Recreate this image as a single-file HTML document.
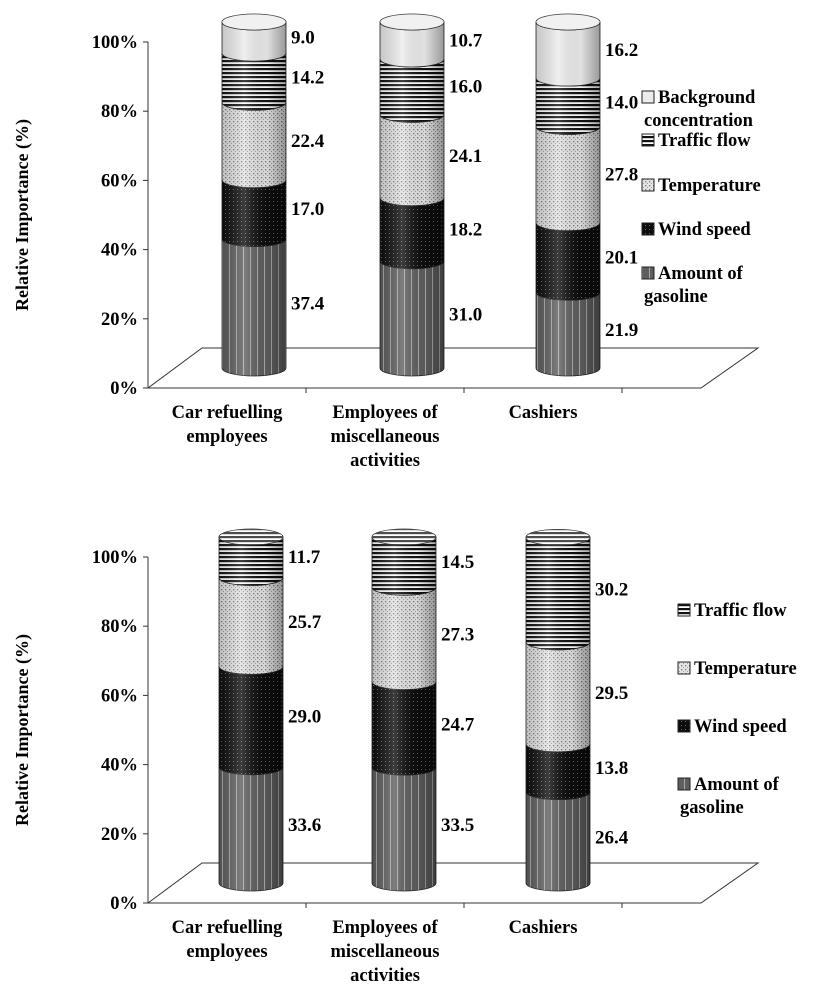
<!DOCTYPE html>
<html><head><meta charset="utf-8"><style>
html,body{margin:0;padding:0;background:#fff;}
svg{display:block;font-family:"Liberation Serif",serif;}
</style></head><body>
<svg id="root" width="830" height="1000" viewBox="0 0 830 1000">
<defs>
<pattern id="pGas" width="7" height="4" patternUnits="userSpaceOnUse"><rect width="7" height="4" fill="#5e5e5e"/><rect x="5" width="1" height="4" fill="#aaa"/></pattern>
<pattern id="pWind" width="4" height="4" patternUnits="userSpaceOnUse"><rect width="4" height="4" fill="#0d0d0d"/><rect x="1" y="1" width="1" height="1" fill="#666"/></pattern>
<pattern id="pTemp" width="4" height="4" patternUnits="userSpaceOnUse"><rect width="4" height="4" fill="#e4e4e4"/><rect x="1" y="1" width="1.3" height="1.3" fill="#777"/><rect x="3" y="3" width="1.3" height="1.3" fill="#999"/></pattern>
<pattern id="pTraf" width="6" height="4" patternUnits="userSpaceOnUse"><rect width="6" height="4" fill="#fff"/><rect width="6" height="2.2" fill="#111"/></pattern>
<pattern id="pBg" width="4" height="4" patternUnits="userSpaceOnUse"><rect width="4" height="4" fill="#ececec"/></pattern>
<linearGradient id="shade" x1="0" x2="1" y1="0" y2="0">
<stop offset="0" stop-color="#000" stop-opacity="0.15"/><stop offset="0.35" stop-color="#fff" stop-opacity="0.2"/><stop offset="0.7" stop-color="#000" stop-opacity="0.05"/><stop offset="1" stop-color="#000" stop-opacity="0.35"/></linearGradient>
</defs>
<g id="top"></g>
<g id="bot"></g>
</svg>
<script>
const categories = [["Car refuelling","employees"],["Employees of","miscellaneous","activities"],["Cashiers"]];
const yTicks = ["0%","20%","40%","60%","80%","100%"];
const topSeriesNames = ["Amount of gasoline","Wind speed","Temperature","Traffic flow","Background concentration"];
const topGasoline = [37.4, 31.0, 21.9];
const topWind = [17.0, 18.2, 20.1];
const topTemp = [22.4, 24.1, 27.8];
const topTraffic = [14.2, 16.0, 14.0];
const topBackground = [9.0, 10.7, 16.2];
const botSeriesNames = ["Amount of gasoline","Wind speed","Temperature","Traffic flow"];
const botGasoline = [33.6, 33.5, 26.4];
const botWind = [29.0, 24.7, 13.8];
const botTemp = [25.7, 27.3, 29.5];
const botTraffic = [11.7, 14.5, 30.2];

const NS="http://www.w3.org/2000/svg";
function mk(tag, attrs, parent){const e=document.createElementNS(NS,tag);for(const k in attrs)e.setAttribute(k,attrs[k]);parent.appendChild(e);return e;}
const fills=["url(#pGas)","url(#pWind)","url(#pTemp)","url(#pTraf)","url(#pBg)"];

function drawChart(g, o, series, names, legend){
  const y0=o.y0, H=346, y=v=>y0-v/100*H;
  let e=mk("line",{x1:o.ax,y1:y(0),x2:o.ax,y2:y(100),stroke:"#333","stroke-width":1},g);
  
  yTicks.forEach((t,i)=>{const yy=y(i*20);
    mk("line",{x1:o.ax-5,y1:yy,x2:o.ax,y2:yy,stroke:"#333"},g);
    const tx=mk("text",{x:o.ax-10,y:yy+6,"text-anchor":"end","font-size":18.5,"font-weight":"bold"},g);tx.textContent=t;
    });
  const fl=mk("path",{d:`M${o.ax},${y(0)} L${o.ax+54},${y(0)-40} L${o.ax+610},${y(0)-40} L${o.ax+553},${y(0)} Z`,fill:"none",stroke:"#333","stroke-width":1},g);
  
  mk("line",{x1:o.ax,y1:y(0),x2:o.ax+553,y2:y(0),stroke:"#333"},g);
  for(let i=1;i<=3;i++){const xx=o.ax+i*158;mk("line",{x1:xx,y1:y(0),x2:xx,y2:y(0)+5,stroke:"#333"},g);}
  categories.forEach((c,i)=>{c.forEach((ln,j)=>{const t=mk("text",{x:o.ax+79+i*158,y:y(0)+30+j*24,"text-anchor":"middle","font-size":18.5,"font-weight":"bold"},g);t.textContent=ln;
    });});
  const yt=mk("text",{x:0,y:0,transform:`translate(${o.titleX},${y(50)}) rotate(-90)`,"text-anchor":"middle","font-size":18,"font-weight":"bold"},g);
  yt.textContent="Relative Importance (%)";
  const rx=32, ry=8, cy0=y0-20;
  const yb=v=>cy0-v/100*H;
  o.cx.forEach((cx,i)=>{
    const cg=mk("g",{},g);
    let cum=0; const xl=cx-rx, xr=cx+rx;
    series.forEach((s,k)=>{
      const a=yb(cum), b=yb(cum+s[i]);
      const p=mk("path",{d:`M${xl},${b} A${rx},${ry} 0 0 0 ${xr},${b} L${xr},${a} A${rx},${ry} 0 0 1 ${xl},${a} Z`,fill:fills[k],stroke:"#222","stroke-width":0.8},cg);
      
      const lb=mk("text",{x:xr+5,y:(a+b)/2+6,"font-size":19,"font-weight":"bold"},g);lb.textContent=s[i].toFixed(1);
      
      cum+=s[i];
    });
    const top=yb(cum);
    mk("path",{d:`M${xl},${top} L${xl},${yb(0)} A${rx},${ry} 0 0 0 ${xr},${yb(0)} L${xr},${top} Z`,fill:"url(#shade)"},cg);
    mk("ellipse",{cx:cx,cy:top,rx:rx,ry:ry,fill:fills[series.length-1],stroke:"#222","stroke-width":0.8},cg);
    mk("ellipse",{cx:cx,cy:top,rx:rx,ry:ry,fill:"#fff","fill-opacity":0.25},cg);
  });
  legend.forEach(l=>{
    const k=l.k;
    const r=mk("rect",{x:o.lx,y:l.y-12,width:12,height:12,fill:fills[k],stroke:"#222","stroke-width":1},g);
    
    l.lines.forEach((ln,j)=>{const t=mk("text",{x:o.lx+(j==0?16:2),y:l.y+j*23,"font-size":18.5,"font-weight":"bold"},g);t.textContent=ln;
      });
  });
}
drawChart(document.getElementById('top'),{y0:388,ax:148,titleX:28,cx:[254,412,568],lx:642},
  [topGasoline,topWind,topTemp,topTraffic,topBackground],topSeriesNames,
  [{k:4,y:103,lines:["Background","concentration"]},{k:3,y:146,lines:["Traffic flow"]},{k:2,y:191,lines:["Temperature"]},{k:1,y:235,lines:["Wind speed"]},{k:0,y:279,lines:["Amount of","gasoline"]}]);
drawChart(document.getElementById('bot'),{y0:903,ax:148,titleX:28,cx:[251,404,558],lx:678},
  [botGasoline,botWind,botTemp,botTraffic],botSeriesNames,
  [{k:3,y:616,lines:["Traffic flow"]},{k:2,y:674,lines:["Temperature"]},{k:1,y:732,lines:["Wind speed"]},{k:0,y:790,lines:["Amount of","gasoline"]}]);
</script>
</body></html>
